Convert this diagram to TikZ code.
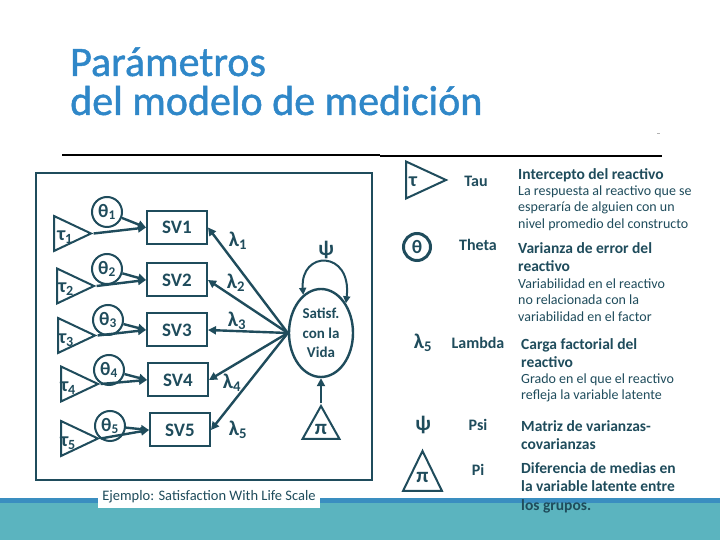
\documentclass[tikz,border=0pt]{standalone}
\usepackage{fontspec}
\setmainfont{Carlito}
\newfontfamily\titlefont{Carlito}[FakeBold=1.1]
\usetikzlibrary{shapes.geometric,arrows.meta}
\definecolor{titleblue}{HTML}{2F87C8}
\definecolor{ink}{HTML}{1F4C5C}
\definecolor{stripe}{HTML}{3A8EC0}
\definecolor{band}{HTML}{5BB4BF}

\begin{document}
\begin{tikzpicture}[x=1pt,y=1pt]
\tikzstyle{every node}+=[inner sep=0pt,text=ink]
\tikzstyle{obs}=[draw=ink,line width=2pt,minimum width=60pt,minimum height=33pt,font=\bfseries\fontsize{19}{21}\selectfont]
\tikzstyle{err}=[draw=ink,circle,line width=2pt,minimum size=30pt,font=\bfseries\fontsize{19}{21}\selectfont]
\tikzstyle{icpt}=[draw=ink,isosceles triangle,isosceles triangle stretches,line width=2pt,minimum width=35pt,minimum height=37pt,anchor=lower side]
\tikzstyle{gr}=[font=\bfseries\fontsize{20}{22}\selectfont]
\tikzstyle{lat}=[draw=ink,ellipse,line width=2.4pt,minimum width=64pt,minimum height=88pt,align=center,font=\bfseries\fontsize{15}{19.5}\selectfont]
\tikzstyle{sym}=[font=\bfseries\fontsize{21}{23}\selectfont]
\tikzstyle{arr}=[draw=ink,line width=2.4pt,-{Triangle[length=8pt,width=8pt]}]
\tikzstyle{loop}=[draw=ink,line width=2pt,{Triangle[length=7pt,width=7pt]}-{Triangle[length=7pt,width=7pt]}]
\tikzstyle{pname}=[font=\bfseries\fontsize{16}{18}\selectfont]
\tikzstyle{head}=[anchor=north west,align=left,font=\bfseries\fontsize{15.5}{18.5}\selectfont]
\tikzstyle{desc}=[anchor=north west,align=left,font=\fontsize{14}{16.4}\selectfont]

\useasboundingbox (0,0) rectangle (720,540);
\fill[white] (0,0) rectangle (720,540);

% title
\node[anchor=base west,text=titleblue,font=\titlefont\fontsize{42}{42}\selectfont] (ttl1) at (70,464) {Parámetros};
\node[anchor=base west,text=titleblue,font=\titlefont\fontsize{42}{42}\selectfont] (ttl2) at (70,425) {del modelo de medición};
\draw[line width=1.6pt] (62,385) -- (380,385);
\draw[line width=1.6pt] (380,384) -- (662,384);
\draw[gray!60,line width=0.6pt] (657,407) -- (660,407);

% bottom band
\fill[band] (0,0) rectangle (720,37);
\fill[stripe] (0,37) rectangle (720,42);

% example model
\draw[draw=ink,line width=2pt] (36,60) rectangle (372,367);

\node[icpt] (tau1) at (53,306.5) {};
\node[icpt] (tau2) at (56,254) {};
\node[icpt] (tau3) at (57,204.5) {};
\node[icpt] (tau4) at (60,156) {};
\node[icpt] (tau5) at (60,101.5) {};
\node[gr] (tl1) at (65,303) {τ\textsubscript{1}};
\node[gr] (tl2) at (66,251) {τ\textsubscript{2}};
\node[gr] (tl3) at (66,200) {τ\textsubscript{3}};
\node[gr] (tl4) at (68,152) {τ\textsubscript{4}};
\node[gr] (tl5) at (68,97) {τ\textsubscript{5}};

\node[err] (th1) at (107,328) {θ\textsubscript{1}};
\node[err] (th2) at (107,271) {θ\textsubscript{2}};
\node[err] (th3) at (108,220) {θ\textsubscript{3}};
\node[err] (th4) at (109,170) {θ\textsubscript{4}};
\node[err] (th5) at (110,114) {θ\textsubscript{5}};

\node[obs] (sv1) at (177,312.5) {SV1};
\node[obs] (sv2) at (177,260) {SV2};
\node[obs] (sv3) at (177,210) {SV3};
\node[obs] (sv4) at (178,160) {SV4};
\node[obs] (sv5) at (180,110) {SV5};

\node[lat] (sat) at (321,207) {Satisf.\\con la\\Vida};
\node[icpt,shape border rotate=90,minimum width=37pt,minimum height=33pt] (pi) at (321,100) {};
\node[sym] (pilab) at (321,111) {π};

\draw[arr] (tau1.apex) -- (sv1.west);
\draw[arr] (th1) -- (sv1.west);
\draw[arr] (tau2.apex) -- (sv2.west);
\draw[arr] (th2) -- (sv2.west);
\draw[arr] (tau3.apex) -- (sv3.west);
\draw[arr] (th3) -- (sv3.west);
\draw[arr] (tau4.apex) -- (sv4.west);
\draw[arr] (th4) -- (sv4.west);
\draw[arr] (tau5.apex) -- (sv5.west);
\draw[arr] (th5) -- (sv5.west);

\draw[arr] (sat.west) -- (sv1.east);
\draw[arr] (sat.west) -- (sv2.east);
\draw[arr] (sat.west) -- (sv3.east);
\draw[arr] (sat.west) -- (sv4.east);
\draw[arr] (sat.west) -- (sv5.east);
\draw[arr] (pi.apex) -- (sat.south);
\draw[loop] (sat.115) .. controls (300,290) and (352,290) .. (sat.50);

\node[sym] (lam1) at (238,299) {λ\textsubscript{1}};
\node[sym] (lam2) at (236,257) {λ\textsubscript{2}};
\node[sym] (lam3) at (237,219) {λ\textsubscript{3}};
\node[sym] (lam4) at (232,157) {λ\textsubscript{4}};
\node[sym] (lam5) at (238,110) {λ\textsubscript{5}};
\node[sym] (psi) at (326,290) {ψ};

\node[fill=white,minimum width=222pt,minimum height=22pt,font=\fontsize{14.5}{16}\selectfont] (cap) at (209,43) {Ejemplo: Satisfaction With Life Scale};

% legend
\node[icpt,minimum width=37pt,minimum height=40pt] (tauK) at (405,360) {};
\node[gr] (tauKlab) at (413,358) {τ};
\node[err,minimum size=27pt,line width=3pt] (thK) at (417,293) {θ};
\node[sym] (lamK) at (423,197) {λ\textsubscript{5}};
\node[sym] (psiK) at (423,115) {ψ};
\node[icpt,shape border rotate=90,minimum width=39pt,minimum height=40pt] (piK) at (422.5,48) {};
\node[sym] (piKlab) at (422.5,63) {π};

\node[pname] (nTau) at (476,359) {Tau};
\node[pname] (nTheta) at (478,295) {Theta};
\node[pname] (nLambda) at (478,197) {Lambda};
\node[pname] (nPsi) at (478,115) {Psi};
\node[pname] (nPi) at (478,70) {Pi};

\node[head] (hTau) at (518,372) {Intercepto del reactivo};
\node[desc] (dTau) at (518,354.5) {La respuesta al reactivo que se\\esperaría de alguien con un\\nivel promedio del constructo};
\node[head] (hTheta) at (518,298) {Varianza de error del\\reactivo};
\node[desc] (dTheta) at (518,261.5) {Variabilidad en el reactivo\\no relacionada con la\\variabilidad en el factor};
\node[head] (hLambda) at (521,202) {Carga factorial del\\reactivo};
\node[desc] (dLambda) at (521,166.5) {Grado en el que el reactivo\\refleja la variable latente};
\node[head] (hPsi) at (521,120) {Matriz de varianzas-\\covarianzas};
\node[head] (hPi) at (521,78) {Diferencia de medias en\\la variable latente entre\\los grupos.};
\end{tikzpicture}
\end{document}
